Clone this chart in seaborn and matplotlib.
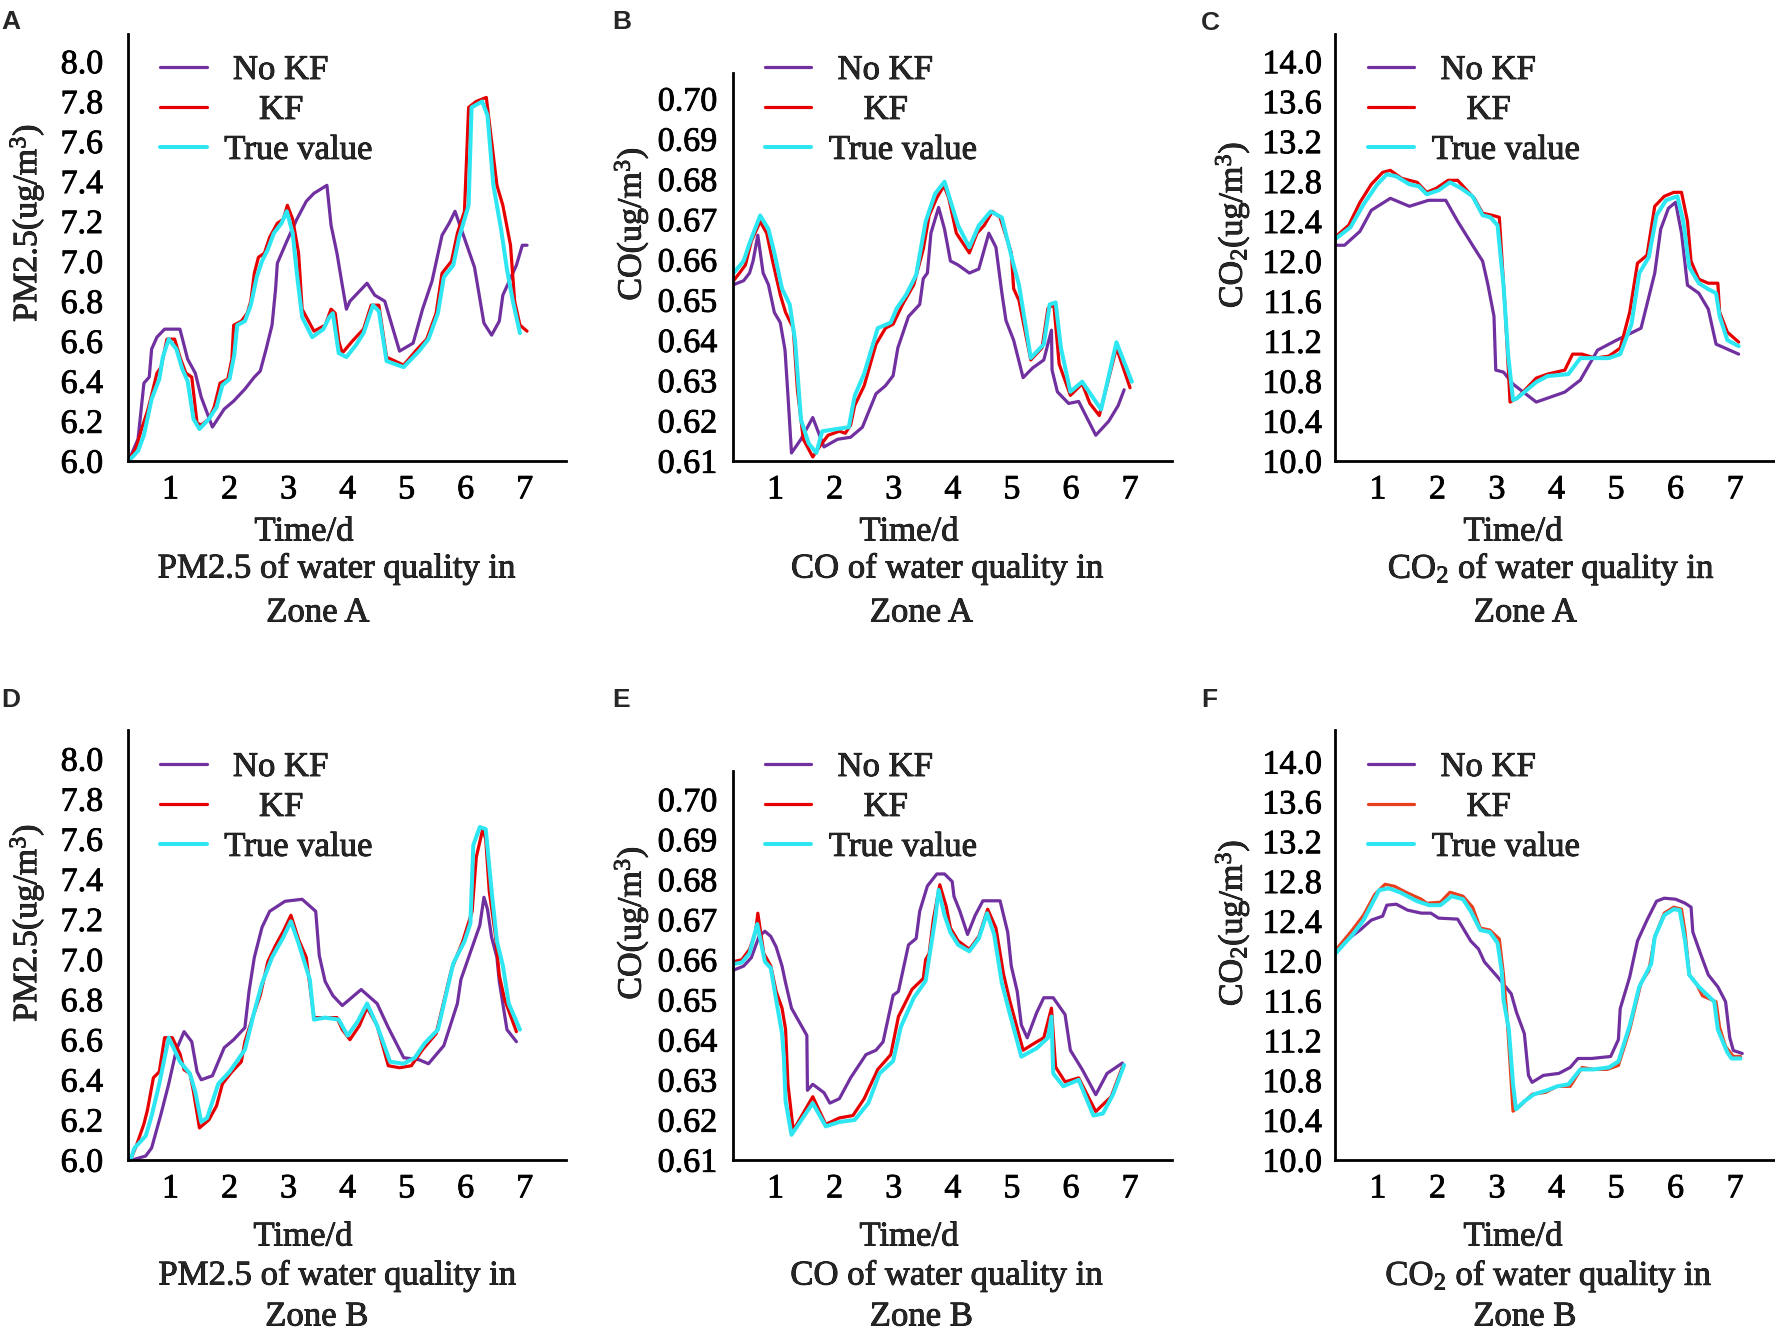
import matplotlib
matplotlib.use("Agg")
import matplotlib.pyplot as plt
import matplotlib.patheffects as pe
import numpy as np
import pandas as pd
import seaborn as sns

# ---------------- data ----------------
series_names = ["No KF", "KF", "True value"]
x_ticks = [1, 2, 3, 4, 5, 6, 7]
pm_ticks = [6.0, 6.2, 6.4, 6.6, 6.8, 7.0, 7.2, 7.4, 7.6, 7.8, 8.0]
co_ticks = [0.61, 0.62, 0.63, 0.64, 0.65, 0.66, 0.67, 0.68, 0.69, 0.70]
co2_ticks = [10.0, 10.4, 10.8, 11.2, 11.6, 12.0, 12.4, 12.8, 13.2, 13.6, 14.0]

a_nokf = [(0.29,6.00),(0.45,6.11),(0.55,6.39),(0.64,6.42),(0.68,6.56),(0.77,6.62),(0.90,6.66),(1.16,6.66),(1.29,6.51),(1.42,6.44),(1.52,6.32),(1.71,6.17),(1.91,6.26),(2.07,6.30),(2.26,6.36),(2.42,6.42),(2.52,6.45),(2.62,6.56),(2.72,6.68),(2.78,6.86),(2.81,6.99),(2.97,7.10),(3.14,7.21),(3.30,7.30),(3.43,7.34),(3.65,7.38),(3.72,7.18),(3.82,7.04),(3.91,6.88),(3.98,6.76),(4.04,6.80),(4.33,6.89),(4.46,6.83),(4.63,6.80),(4.88,6.55),(5.11,6.59),(5.27,6.76),(5.43,6.90),(5.60,7.13),(5.72,7.19),(5.82,7.25),(5.95,7.14),(6.15,6.97),(6.31,6.69),(6.44,6.63),(6.57,6.70),(6.63,6.83),(6.86,6.98),(6.96,7.08),(7.04,7.08)]
a_kf = [(0.29,6.00),(0.42,6.07),(0.52,6.17),(0.61,6.25),(0.68,6.33),(0.77,6.44),(0.84,6.47),(0.94,6.61),(1.07,6.61),(1.16,6.52),(1.26,6.44),(1.36,6.42),(1.45,6.19),(1.52,6.18),(1.65,6.21),(1.74,6.27),(1.84,6.39),(1.97,6.41),(2.04,6.51),(2.07,6.68),(2.20,6.70),(2.30,6.74),(2.36,6.80),(2.42,6.94),(2.49,7.02),(2.59,7.04),(2.68,7.12),(2.81,7.19),(2.91,7.21),(2.98,7.28),(3.07,7.21),(3.17,7.04),(3.23,6.76),(3.43,6.65),(3.62,6.68),(3.72,6.76),(3.79,6.74),(3.85,6.60),(3.91,6.54),(4.08,6.60),(4.27,6.66),(4.40,6.78),(4.53,6.78),(4.66,6.52),(4.95,6.48),(5.18,6.56),(5.34,6.61),(5.50,6.74),(5.60,6.94),(5.76,7.00),(5.86,7.14),(5.98,7.25),(6.05,7.77),(6.18,7.80),(6.35,7.82),(6.53,7.38),(6.63,7.28),(6.76,7.08),(6.83,6.80),(6.92,6.68),(7.04,6.65)]
a_true = [(0.29,6.00),(0.45,6.05),(0.55,6.13),(0.68,6.31),(0.81,6.41),(0.87,6.52),(0.97,6.61),(1.10,6.56),(1.20,6.46),(1.29,6.40),(1.39,6.21),(1.49,6.16),(1.65,6.21),(1.78,6.27),(1.88,6.38),(2.00,6.41),(2.08,6.53),(2.13,6.68),(2.26,6.70),(2.36,6.78),(2.46,6.92),(2.55,7.00),(2.65,7.06),(2.75,7.14),(2.88,7.19),(2.97,7.25),(3.07,7.14),(3.14,6.94),(3.23,6.72),(3.40,6.62),(3.59,6.66),(3.69,6.72),(3.75,6.74),(3.85,6.54),(3.98,6.52),(4.14,6.58),(4.27,6.64),(4.43,6.78),(4.53,6.75),(4.66,6.50),(4.95,6.47),(5.21,6.55),(5.37,6.61),(5.53,6.74),(5.63,6.92),(5.79,6.98),(5.89,7.12),(6.05,7.28),(6.10,7.77),(6.28,7.80),(6.37,7.73),(6.47,7.38),(6.60,7.16),(6.70,6.96),(6.80,6.80),(6.92,6.64)]

b_nokf = [(0.29,0.6538),(0.46,0.6548),(0.56,0.6567),(0.62,0.6597),(0.70,0.6661),(0.79,0.6567),(0.88,0.6538),(0.98,0.6469),(1.08,0.6444),(1.16,0.6376),(1.21,0.6263),(1.27,0.6120),(1.43,0.6154),(1.63,0.6208),(1.82,0.6135),(2.05,0.6154),(2.27,0.6159),(2.47,0.6184),(2.70,0.6267),(2.86,0.6287),(2.99,0.6312),(3.07,0.6381),(3.25,0.6459),(3.44,0.6489),(3.50,0.6553),(3.57,0.6567),(3.63,0.6666),(3.76,0.6730),(3.86,0.6676),(3.96,0.6597),(4.09,0.6587),(4.28,0.6567),(4.44,0.6577),(4.61,0.6666),(4.73,0.6631),(4.83,0.6518),(4.90,0.6449),(5.03,0.6400),(5.19,0.6307),(5.35,0.6331),(5.54,0.6351),(5.67,0.6425),(5.68,0.6326),(5.77,0.6272),(5.96,0.6243),(6.13,0.6248),(6.42,0.6164),(6.64,0.6199),(6.80,0.6238),(6.90,0.6277)]
b_kf = [(0.29,0.6548),(0.39,0.6567),(0.49,0.6587),(0.59,0.6646),(0.74,0.6695),(0.85,0.6666),(0.95,0.6597),(1.08,0.6513),(1.17,0.6469),(1.30,0.6430),(1.37,0.6277),(1.47,0.6154),(1.63,0.6110),(1.76,0.6139),(1.89,0.6164),(2.08,0.6174),(2.18,0.6169),(2.27,0.6189),(2.34,0.6238),(2.50,0.6287),(2.70,0.6390),(2.86,0.6430),(2.99,0.6440),(3.15,0.6489),(3.34,0.6538),(3.50,0.6626),(3.60,0.6710),(3.73,0.6754),(3.85,0.6784),(3.93,0.6754),(4.06,0.6666),(4.28,0.6617),(4.41,0.6666),(4.53,0.6685),(4.67,0.6720),(4.80,0.6705),(4.99,0.6617),(5.03,0.6528),(5.12,0.6499),(5.32,0.6351),(5.51,0.6381),(5.61,0.6479),(5.71,0.6489),(5.80,0.6341),(5.99,0.6263),(6.19,0.6292),(6.32,0.6243),(6.48,0.6213),(6.77,0.6381),(7.00,0.6282)]
b_true = [(0.29,0.6567),(0.46,0.6597),(0.56,0.6641),(0.74,0.6710),(0.88,0.6676),(0.98,0.6617),(1.11,0.6528),(1.24,0.6489),(1.33,0.6400),(1.43,0.6203),(1.56,0.6144),(1.69,0.6120),(1.79,0.6174),(2.24,0.6184),(2.34,0.6262),(2.50,0.6317),(2.73,0.6430),(2.95,0.6444),(3.05,0.6479),(3.21,0.6513),(3.38,0.6562),(3.54,0.6695),(3.70,0.6764),(3.86,0.6794),(4.09,0.6685),(4.28,0.6631),(4.44,0.6685),(4.64,0.6720),(4.83,0.6705),(5.03,0.6587),(5.12,0.6538),(5.32,0.6356),(5.54,0.6390),(5.64,0.6489),(5.74,0.6494),(5.83,0.6381),(5.99,0.6272),(6.19,0.6297),(6.51,0.6228),(6.77,0.6395),(7.03,0.6297)]

c_nokf = [(0.28,12.16),(0.44,12.16),(0.70,12.30),(0.89,12.51),(1.21,12.63),(1.53,12.55),(1.85,12.61),(2.14,12.61),(2.34,12.40),(2.59,12.16),(2.76,12.00),(2.85,11.76),(2.95,11.45),(2.98,10.91),(3.11,10.89),(3.27,10.77),(3.66,10.59),(4.14,10.69),(4.40,10.81),(4.69,11.11),(5.01,11.21),(5.42,11.33),(5.65,11.88),(5.75,12.32),(5.88,12.53),(6.00,12.59),(6.10,12.28),(6.20,11.76),(6.39,11.68),(6.55,11.52),(6.68,11.17),(7.06,11.07)]
c_kf = [(0.28,12.24),(0.51,12.36),(0.70,12.59),(0.89,12.77),(1.08,12.89),(1.21,12.91),(1.40,12.83),(1.66,12.79),(1.82,12.69),(1.98,12.73),(2.18,12.81),(2.34,12.81),(2.62,12.63),(2.76,12.48),(2.92,12.46),(3.04,12.44),(3.14,11.49),(3.22,10.59),(3.34,10.63),(3.66,10.83),(3.85,10.87),(4.14,10.91),(4.27,11.07),(4.43,11.07),(4.65,11.03),(4.88,11.05),(5.07,11.13),(5.23,11.49),(5.36,11.98),(5.52,12.06),(5.65,12.55),(5.81,12.65),(5.97,12.69),(6.10,12.69),(6.20,12.40),(6.26,12.00),(6.39,11.82),(6.55,11.78),(6.71,11.78),(6.74,11.49),(6.87,11.29),(7.06,11.19)]
c_true = [(0.28,12.22),(0.54,12.34),(0.76,12.57),(0.99,12.77),(1.15,12.87),(1.31,12.85),(1.53,12.77),(1.69,12.75),(1.82,12.67),(2.02,12.71),(2.21,12.79),(2.40,12.73),(2.59,12.65),(2.76,12.46),(2.89,12.44),(3.01,12.36),(3.11,11.76),(3.19,11.05),(3.27,10.61),(3.34,10.63),(3.66,10.79),(3.85,10.85),(4.20,10.87),(4.40,11.03),(4.62,11.03),(4.88,11.03),(5.07,11.07),(5.26,11.37),(5.39,11.88),(5.55,12.04),(5.68,12.46),(5.84,12.61),(6.03,12.65),(6.13,12.40),(6.23,11.94),(6.39,11.78),(6.55,11.72),(6.68,11.68),(6.74,11.45),(6.87,11.21),(7.06,11.15)]

d_nokf = [(0.35,6.00),(0.58,6.02),(0.68,6.06),(0.84,6.23),(0.97,6.38),(1.10,6.55),(1.23,6.64),(1.36,6.59),(1.45,6.44),(1.52,6.40),(1.71,6.42),(1.91,6.56),(2.07,6.60),(2.26,6.66),(2.33,6.84),(2.42,7.01),(2.55,7.16),(2.68,7.24),(2.94,7.29),(3.23,7.30),(3.46,7.24),(3.52,7.02),(3.62,6.89),(3.75,6.82),(3.91,6.77),(4.23,6.85),(4.50,6.78),(4.69,6.66),(4.95,6.51),(5.21,6.50),(5.37,6.48),(5.63,6.57),(5.86,6.78),(5.92,6.90),(6.05,7.01),(6.24,7.17),(6.31,7.31),(6.37,7.25),(6.44,7.11),(6.53,7.01),(6.57,6.89),(6.70,6.65),(6.86,6.59)]
d_kf = [(0.32,6.00),(0.42,6.07),(0.55,6.18),(0.61,6.25),(0.71,6.41),(0.81,6.44),(0.90,6.61),(1.03,6.61),(1.16,6.53),(1.23,6.45),(1.33,6.43),(1.39,6.34),(1.49,6.16),(1.65,6.20),(1.78,6.27),(1.88,6.38),(2.04,6.44),(2.20,6.49),(2.26,6.59),(2.39,6.71),(2.52,6.82),(2.65,6.99),(2.78,7.07),(2.91,7.14),(3.04,7.22),(3.17,7.10),(3.30,7.01),(3.43,6.71),(3.62,6.71),(3.82,6.71),(3.91,6.65),(4.04,6.60),(4.20,6.67),(4.33,6.76),(4.50,6.67),(4.69,6.47),(4.88,6.46),(5.08,6.47),(5.27,6.55),(5.50,6.63),(5.76,6.95),(5.95,7.09),(6.11,7.24),(6.18,7.51),(6.29,7.65),(6.34,7.60),(6.40,7.34),(6.50,7.13),(6.57,6.92),(6.66,6.80),(6.86,6.64)]
d_true = [(0.32,6.00),(0.39,6.06),(0.58,6.12),(0.68,6.22),(0.81,6.38),(0.97,6.61),(1.16,6.49),(1.33,6.43),(1.42,6.34),(1.52,6.19),(1.62,6.21),(1.81,6.38),(2.00,6.44),(2.26,6.55),(2.42,6.74),(2.55,6.88),(2.72,7.01),(2.91,7.11),(3.04,7.19),(3.17,7.08),(3.36,6.90),(3.43,6.70),(3.62,6.71),(3.85,6.70),(4.00,6.62),(4.17,6.69),(4.33,6.78),(4.50,6.67),(4.72,6.49),(4.95,6.48),(5.14,6.51),(5.30,6.58),(5.53,6.65),(5.79,6.98),(5.98,7.09),(6.08,7.18),(6.13,7.57),(6.24,7.66),(6.34,7.65),(6.44,7.34),(6.53,7.09),(6.63,6.97),(6.73,6.78),(6.92,6.65)]

e_nokf = [(0.29,0.6574),(0.46,0.6584),(0.59,0.6605),(0.72,0.6658),(0.82,0.6671),(0.92,0.6658),(1.01,0.6632),(1.11,0.6584),(1.17,0.6542),(1.27,0.6479),(1.53,0.6411),(1.54,0.6274),(1.63,0.6289),(1.82,0.6268),(1.92,0.6242),(2.08,0.6253),(2.27,0.6305),(2.53,0.6363),(2.70,0.6374),(2.82,0.6395),(2.99,0.6511),(3.08,0.6521),(3.25,0.6637),(3.38,0.6653),(3.44,0.6721),(3.57,0.6784),(3.73,0.6814),(3.86,0.6814),(3.99,0.6795),(4.02,0.6758),(4.12,0.6721),(4.25,0.6663),(4.38,0.6711),(4.51,0.6747),(4.80,0.6747),(4.93,0.6668),(4.99,0.6584),(5.09,0.6521),(5.16,0.6437),(5.26,0.6405),(5.42,0.6468),(5.54,0.6505),(5.70,0.6505),(5.90,0.6463),(5.99,0.6374),(6.19,0.6326),(6.42,0.6263),(6.61,0.6316),(6.87,0.6342)]
e_kf = [(0.29,0.6595),(0.43,0.6600),(0.56,0.6626),(0.66,0.6668),(0.70,0.6716),(0.80,0.6616),(0.92,0.6584),(1.01,0.6521),(1.11,0.6479),(1.17,0.6426),(1.21,0.6289),(1.30,0.6174),(1.63,0.6258),(1.85,0.6189),(2.08,0.6205),(2.31,0.6211),(2.50,0.6253),(2.73,0.6326),(2.95,0.6363),(3.08,0.6458),(3.31,0.6526),(3.50,0.6553),(3.54,0.6600),(3.60,0.6616),(3.67,0.6700),(3.78,0.6787),(3.89,0.6732),(3.96,0.6679),(4.09,0.6647),(4.28,0.6626),(4.44,0.6658),(4.59,0.6726),(4.73,0.6679),(4.86,0.6563),(4.96,0.6500),(5.19,0.6374),(5.42,0.6395),(5.54,0.6405),(5.67,0.6479),(5.74,0.6332),(5.90,0.6295),(6.13,0.6305),(6.42,0.6221),(6.68,0.6258),(6.87,0.6332)]
e_true = [(0.29,0.6589),(0.43,0.6593),(0.56,0.6616),(0.69,0.6689),(0.82,0.6595),(0.92,0.6579),(1.01,0.6500),(1.11,0.6416),(1.14,0.6358),(1.17,0.6247),(1.27,0.6163),(1.63,0.6242),(1.85,0.6184),(2.08,0.6195),(2.34,0.6200),(2.57,0.6242),(2.76,0.6316),(2.99,0.6347),(3.12,0.6432),(3.34,0.6505),(3.54,0.6547),(3.60,0.6605),(3.70,0.6700),(3.76,0.6774),(3.86,0.6711),(3.96,0.6668),(4.09,0.6637),(4.28,0.6621),(4.44,0.6653),(4.58,0.6716),(4.70,0.6663),(4.83,0.6542),(4.96,0.6468),(5.16,0.6358),(5.42,0.6379),(5.61,0.6405),(5.67,0.6458),(5.70,0.6316),(5.87,0.6284),(6.13,0.6300),(6.38,0.6211),(6.54,0.6216),(6.71,0.6263),(6.90,0.6337)]

f_nokf = [(0.28,12.07),(0.50,12.22),(0.70,12.31),(0.89,12.41),(1.08,12.45),(1.15,12.56),(1.31,12.57),(1.50,12.51),(1.73,12.48),(1.89,12.48),(2.02,12.43),(2.34,12.42),(2.56,12.20),(2.69,12.12),(2.79,11.99),(3.01,11.84),(3.24,11.67),(3.33,11.48),(3.46,11.27),(3.53,10.85),(3.59,10.78),(3.78,10.85),(4.04,10.87),(4.23,10.93),(4.36,11.02),(4.59,11.02),(4.91,11.04),(5.04,11.21),(5.07,11.52),(5.23,11.84),(5.36,12.20),(5.52,12.41),(5.68,12.60),(5.81,12.63),(6.00,12.62),(6.16,12.58),(6.26,12.54),(6.29,12.29),(6.42,12.07),(6.55,11.86),(6.71,11.74),(6.84,11.59),(6.91,11.23),(6.97,11.10),(7.12,11.07)]
f_kf = [(0.28,12.10),(0.57,12.31),(0.76,12.46),(0.95,12.67),(1.12,12.77),(1.28,12.75),(1.47,12.69),(1.73,12.62),(1.82,12.58),(2.05,12.59),(2.21,12.69),(2.43,12.65),(2.59,12.54),(2.72,12.33),(2.88,12.31),(3.04,12.22),(3.11,11.86),(3.17,11.44),(3.27,10.49),(3.40,10.55),(3.59,10.66),(3.82,10.68),(4.01,10.74),(4.23,10.74),(4.43,10.93),(4.62,10.91),(4.85,10.91),(5.04,10.95),(5.23,11.31),(5.42,11.78),(5.55,11.90),(5.65,12.24),(5.81,12.48),(5.97,12.54),(6.10,12.52),(6.16,12.29),(6.23,11.86),(6.36,11.76),(6.45,11.65),(6.68,11.59),(6.74,11.33),(6.84,11.14),(6.97,11.04),(7.09,11.04)]
f_true = [(0.28,12.07),(0.57,12.26),(0.76,12.41),(1.02,12.71),(1.18,12.73),(1.37,12.69),(1.66,12.60),(1.86,12.56),(2.05,12.56),(2.24,12.65),(2.43,12.62),(2.56,12.50),(2.72,12.31),(2.88,12.29),(3.01,12.18),(3.08,11.90),(3.11,11.61),(3.20,11.31),(3.27,10.76),(3.32,10.51),(3.46,10.59),(3.62,10.66),(3.84,10.70),(4.01,10.74),(4.20,10.76),(4.40,10.91),(4.62,10.91),(4.88,10.93),(5.04,10.99),(5.23,11.35),(5.39,11.74),(5.59,11.97),(5.65,12.24),(5.81,12.46),(5.97,12.52),(6.07,12.51),(6.16,12.20),(6.23,11.86),(6.39,11.74),(6.65,11.59),(6.71,11.31),(6.87,11.08),(6.94,11.02),(7.09,11.02)]

# ---------------- styling ----------------
sns.set_style("white")
plt.rcParams["font.family"] = ["Liberation Serif", "DejaVu Serif"]
plt.rcParams["mathtext.fontset"] = "custom"
plt.rcParams["mathtext.rm"] = "Liberation Serif"
plt.rcParams["mathtext.it"] = "Liberation Serif:italic"
plt.rcParams["mathtext.bf"] = "Liberation Serif:bold"

W, H = 1775, 1337
fig = plt.figure(figsize=(W / 100, H / 100), dpi=100)

def fx(px):
    return px / W

def fy(py):
    return 1 - py / H

PURPLE = "#7030A0"
RED = "#E60000"
CYAN = "#2EE6F2"
HEAVY = [pe.withStroke(linewidth=0.6, foreground="black")]

panels = [
    dict(letter="A", box=(128, 566, 33.5, 461), xlim=(0.28, 7.70), ylim=(6.0, 8.14), yticks=pm_ticks, fmt="{:.1f}",
         ylabel=r"PM2.5(ug/m$^3$)", ylab=(27, 223), ypad=18, leg=(160, 54), red=RED,
         data=(a_nokf, a_kf, a_true), t1="PM2.5 of water quality in", t2="Zone A",
         pos_x=(304, 337, 318), pos_y=(532, 569, 613), letpos=(11, 22)),
    dict(letter="B", box=(733, 1172, 73, 461), xlim=(0.28, 7.71), ylim=(0.61, 0.7064), yticks=co_ticks, fmt="{:.2f}",
         ylabel=r"CO(ug/m$^3$)", ylab=(631.5, 224), ypad=11.5, leg=(764.6, 54), red=RED,
         data=(b_nokf, b_kf, b_true), t1="CO of water quality in", t2="Zone A",
         pos_x=(909, 947.6, 921.5), pos_y=(532, 569, 613), letpos=(622, 22)),
    dict(letter="C", box=(1335, 1775, 33.5, 461), xlim=(0.28, 7.67), ylim=(10.0, 14.28), yticks=co2_ticks, fmt="{:.1f}",
         ylabel=r"CO$_2$(ug/m$^3$)", ylab=(1232.6, 225), ypad=9.6, leg=(1367.5, 54), red=RED,
         data=(c_nokf, c_kf, c_true), t1=r"CO$_2$ of water quality in", t2="Zone A",
         pos_x=(1513, 1551.5, 1525.5), pos_y=(532, 569, 613), letpos=(1210, 23)),
    dict(letter="D", box=(128, 566, 730, 1160), xlim=(0.28, 7.70), ylim=(6.0, 8.144), yticks=pm_ticks, fmt="{:.1f}",
         ylabel=r"PM2.5(ug/m$^3$)", ylab=(27, 923), ypad=18, leg=(160, 751), red=RED,
         data=(d_nokf, d_kf, d_true), t1="PM2.5 of water quality in", t2="Zone B",
         pos_x=(303, 337.7, 317), pos_y=(1237, 1276, 1317), letpos=(11, 700)),
    dict(letter="E", box=(733, 1172, 771, 1160), xlim=(0.28, 7.71), ylim=(0.61, 0.7071), yticks=co_ticks, fmt="{:.2f}",
         ylabel=r"CO(ug/m$^3$)", ylab=(631.5, 923), ypad=11.5, leg=(764.6, 751), red=RED,
         data=(e_nokf, e_kf, e_true), t1="CO of water quality in", t2="Zone B",
         pos_x=(909, 947, 921.5), pos_y=(1237, 1276, 1317), letpos=(621, 700)),
    dict(letter="F", box=(1335, 1775, 730, 1160), xlim=(0.28, 7.67), ylim=(10.0, 14.32), yticks=co2_ticks, fmt="{:.1f}",
         ylabel=r"CO$_2$(ug/m$^3$)", ylab=(1232.6, 923), ypad=9.6, leg=(1367.5, 751), red="#E8401E",
         data=(f_nokf, f_kf, f_true), t1=r"CO$_2$ of water quality in", t2="Zone B",
         pos_x=(1513, 1549, 1525), pos_y=(1237, 1276, 1317), letpos=(1209, 700)),
]

legend_labels = [" No KF", "    KF", "True value"]
FS = 25

for p in panels:
    L, R, T, B = p["box"]
    ax = fig.add_axes([fx(L), fy(B), (R - L) / W, (B - T) / H])
    colors = [PURPLE, p["red"], CYAN]
    widths = [2.3, 2.3, 2.9]
    for name, pts, c, lw in zip(series_names, p["data"], colors, widths):
        df = pd.DataFrame(pts, columns=["t", "v"])
        sns.lineplot(data=df, x="t", y="v", ax=ax, color=c, lw=lw,
                     estimator=None, sort=False, legend=False)
    ax.set_xlim(*p["xlim"])
    ax.set_ylim(*p["ylim"])
    ax.set_xticks(x_ticks)
    ax.set_xticklabels([str(t) for t in x_ticks])
    ax.set_yticks(p["yticks"])
    ax.set_yticklabels([p["fmt"].format(t) for t in p["yticks"]])
    ax.set_xlabel("")
    ax.set_ylabel("")
    for s in ["top", "right"]:
        ax.spines[s].set_visible(False)
    for s in ["left", "bottom"]:
        ax.spines[s].set_color("black")
        ax.spines[s].set_linewidth(2.0)
    ax.tick_params(axis="both", direction="in", length=4, width=2.0, color="black",
                   labelsize=24.5, labelcolor="black")
    ax.tick_params(axis="x", pad=10)
    ax.tick_params(axis="y", pad=p["ypad"])
    for lab in ax.get_xticklabels() + ax.get_yticklabels():
        lab.set_path_effects(HEAVY)
    ax.patch.set_alpha(0)

    handles = ax.get_lines()[:3]
    leg = fig.legend(handles, legend_labels, loc="upper left",
                     bbox_to_anchor=(fx(p["leg"][0]), fy(p["leg"][1])),
                     bbox_transform=fig.transFigure, frameon=False, fontsize=FS,
                     borderpad=0, borderaxespad=0, handlelength=1.35,
                     handletextpad=0.5, labelspacing=0.2)
    for t in leg.get_texts():
        t.set_path_effects(HEAVY)

    fig.text(fx(p["ylab"][0]), fy(p["ylab"][1]), p["ylabel"], rotation=90,
             ha="center", va="center", fontsize=24.5, path_effects=HEAVY)
    texts = ["Time/d", p["t1"], p["t2"]]
    for t, xx, yy in zip(texts, p["pos_x"], p["pos_y"]):
        fig.text(fx(xx), fy(yy), t, ha="center", va="center", fontsize=FS, path_effects=HEAVY)
    fig.text(fx(p["letpos"][0]), fy(p["letpos"][1]), p["letter"], ha="center", va="center",
             fontsize=19, fontweight="bold", family=["Liberation Sans", "DejaVu Sans"])

fig.savefig("out.png", dpi=100, facecolor="white")
